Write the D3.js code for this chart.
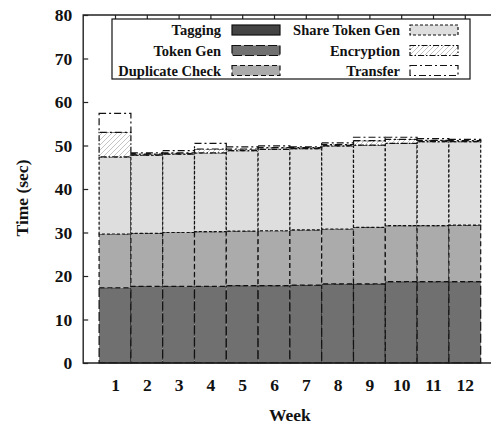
<!DOCTYPE html>
<html><head><meta charset="utf-8">
<script src="https://cdn.jsdelivr.net/npm/d3@7/dist/d3.min.js"></script>
<style>
html,body{margin:0;padding:0;background:#fff;overflow:hidden}
svg text{font-family:"Liberation Serif","Times New Roman",Times,"DejaVu Serif","Noto Serif",serif;font-weight:bold;fill:#111}
</style>
</head><body>
<svg id="c" width="491" height="428"></svg>
<script>
const weeks = [1,2,3,4,5,6,7,8,9,10,11,12];
const seriesNames = ["Tagging","Token Gen","Duplicate Check","Share Token Gen","Encryption","Transfer"];
const tagging       = [0.1,0.1,0.1,0.1,0.1,0.1,0.1,0.1,0.1,0.1,0.1,0.1];
const tokenGen      = [17.2,17.5,17.5,17.5,17.7,17.7,17.8,18.1,18.1,18.6,18.6,18.6];
const duplicateCheck= [12.35,12.2,12.4,12.6,12.5,12.6,12.7,12.6,13.0,12.9,12.9,13.0];
const shareTokenGen = [17.75,18.0,18.0,18.1,18.5,18.7,18.7,19.1,18.9,18.9,19.3,19.2];
const encryption    = [5.6,0.2,0.3,0.9,0.4,0.4,0.2,0.3,1.0,0.9,0.3,0.2];
const transfer      = [4.4,0.3,0.5,1.3,0.5,0.4,0.2,0.4,0.8,0.5,0.4,0.3];
const yTicks = [0,10,20,30,40,50,60,70,80];

const seriesValues = [tagging,tokenGen,duplicateCheck,shareTokenGen,encryption,transfer];
const table = weeks.map((w,i)=>{const o={week:w}; seriesNames.forEach((n,k)=>o[n]=seriesValues[k][i]); return o;});

const styles = {
  "Tagging":        {fill:"#444444", dash:null},
  "Token Gen":      {fill:"#707070", dash:"9,3"},
  "Duplicate Check":{fill:"#ababab", dash:"5,3"},
  "Share Token Gen":{fill:"#dedede", dash:"3,2"},
  "Encryption":     {fill:"url(#hatch)", dash:"6,2,1.5,2"},
  "Transfer":       {fill:"#ffffff", dash:"7,3,2,3"}
};

const svg = d3.select("#c");
const defs = svg.append("defs");
const pat = defs.append("pattern").attr("id","hatch").attr("patternUnits","userSpaceOnUse")
  .attr("width",5).attr("height",5);
pat.append("rect").attr("width",5).attr("height",5).attr("fill","#fff");
pat.append("path").attr("d","M-1,6 L6,-1 M-1,1 L1,-1 M4,6 L6,4").attr("stroke","#c4c4c4").attr("stroke-width",1);

const L=83.2, R=496.6, T=15, B=363;
const x = d3.scaleLinear().domain([0,13]).range([L,R]);
const y = d3.scaleLinear().domain([0,80]).range([B,T]);

const stack = d3.stack().keys(seriesNames)(table);

const g = svg.append("g");
stack.forEach(layer=>{
  const st = styles[layer.key];
  g.selectAll(null).data(layer).join("rect")
    .attr("x",d=>x(d.data.week-0.5))
    .attr("width",d=>x(d.data.week+0.5)-x(d.data.week-0.5))
    .attr("y",d=>y(d[1]))
    .attr("height",d=>Math.max(0,y(d[0])-y(d[1])))
    .attr("fill",st.fill)
    .attr("stroke","#111")
    .attr("stroke-width",1.2)
    .attr("stroke-dasharray",st.dash);
});

// frame
const frame = svg.append("g").attr("stroke","#222").attr("stroke-width",1.4).attr("fill","none");
frame.append("path").attr("d",`M${R},${T} L${L},${T} L${L},${B} L${R},${B} Z`);

// y axis ticks and labels
const yAxis = d3.axisLeft(y).tickValues(yTicks).tickSize(-5).tickPadding(10).tickFormat(d3.format("d"));
const ya = svg.append("g").attr("transform",`translate(${L},0)`).call(yAxis);
ya.attr("font-family",null).attr("font-size",null);
ya.select(".domain").remove();
ya.selectAll("line").attr("stroke","#222").attr("stroke-width",1.2);
ya.selectAll("text").style("font-size","17.5px").attr("fill","#111").attr("dx",-1);

// top mirror ticks
const xTop = d3.axisTop(x).tickValues(weeks).tickSize(-4).tickFormat("");
const xt = svg.append("g").attr("transform",`translate(0,${T})`).call(xTop);
xt.select(".domain").remove();
xt.selectAll("line").attr("stroke","#222").attr("stroke-width",1.2);

// x axis labels
const xAxis = d3.axisBottom(x).tickValues(weeks).tickSize(0).tickPadding(16).tickFormat(d3.format("d"));
const xa = svg.append("g").attr("transform",`translate(0,${B})`).call(xAxis);
xa.attr("font-family",null).attr("font-size",null);
xa.select(".domain").remove();
xa.selectAll("text").style("font-size","17.5px").attr("fill","#111");

// axis titles
svg.append("text").attr("x",(L+R)/2).attr("y",421).attr("text-anchor","middle")
  .style("font-size","17.5px").text("Week");
svg.append("text").attr("transform","translate(28,198) rotate(-90)").attr("text-anchor","middle")
  .style("font-size","17.5px").text("Time (sec)");

// legend
const lg = svg.append("g");
lg.append("rect").attr("x",112).attr("y",19).attr("width",358).attr("height",60)
  .attr("fill","#fff").attr("stroke","#111").attr("stroke-width",1.2);
const rowsY = [30,50.5,70.5];
seriesNames.forEach((n,i)=>{
  const col = Math.floor(i/3), row = i%3;
  const tx = col===0 ? 221 : 400;
  const sx = col===0 ? 232 : 410;
  const st = styles[n];
  lg.append("text").attr("x",tx).attr("y",rowsY[row]+5).attr("text-anchor","end")
    .style("font-size","14.5px").text(n);
  lg.append("rect").attr("x",sx).attr("y",rowsY[row]-5).attr("width",48).attr("height",10)
    .attr("fill",st.fill).attr("stroke","#111").attr("stroke-width",1.2).attr("stroke-dasharray",st.dash);
});
</script>
</body></html>
